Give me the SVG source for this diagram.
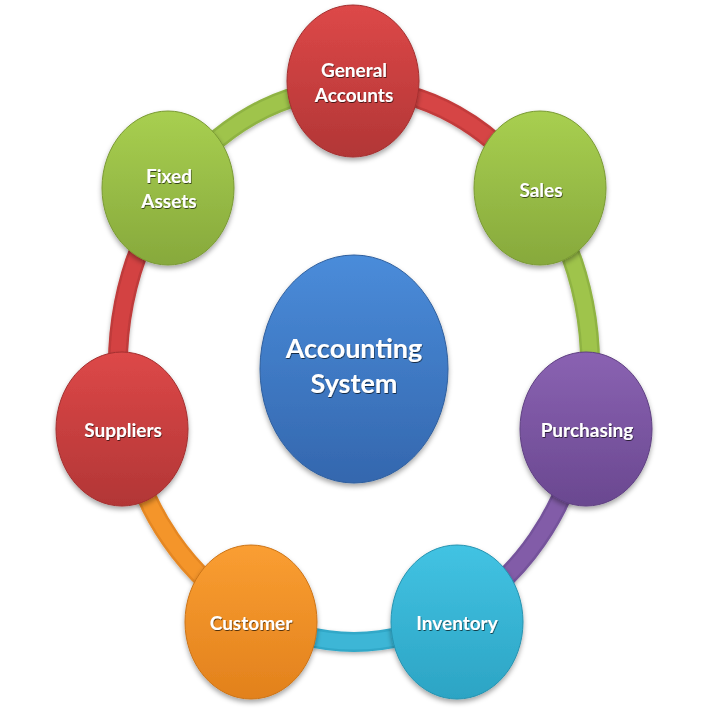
<svg xmlns="http://www.w3.org/2000/svg" width="709" height="709" viewBox="0 0 709 709">
<defs>
  <linearGradient id="gRed" x1="0" y1="0" x2="0" y2="1"><stop offset="0" stop-color="#dd4848"/><stop offset="1" stop-color="#b23636"/></linearGradient>
  <linearGradient id="gGreen" x1="0" y1="0" x2="0" y2="1"><stop offset="0" stop-color="#a8cf50"/><stop offset="1" stop-color="#87a93c"/></linearGradient>
  <linearGradient id="gPurple" x1="0" y1="0" x2="0" y2="1"><stop offset="0" stop-color="#8a62b2"/><stop offset="1" stop-color="#6a4890"/></linearGradient>
  <linearGradient id="gCyan" x1="0" y1="0" x2="0" y2="1"><stop offset="0" stop-color="#42c3e3"/><stop offset="1" stop-color="#2ca4c4"/></linearGradient>
  <linearGradient id="gOrange" x1="0" y1="0" x2="0" y2="1"><stop offset="0" stop-color="#fa9e32"/><stop offset="1" stop-color="#e2811c"/></linearGradient>
  <linearGradient id="gBlue" x1="0" y1="0" x2="0" y2="1"><stop offset="0" stop-color="#4a8cda"/><stop offset="1" stop-color="#3467ae"/></linearGradient>
  <filter id="sh" x="-20%" y="-20%" width="140%" height="150%">
    <feDropShadow dx="0" dy="3" stdDeviation="2.5" flood-color="#000" flood-opacity="0.35"/>
  </filter>
  <filter id="rs" x="-10%" y="-10%" width="120%" height="120%">
    <feDropShadow dx="0" dy="2" stdDeviation="2" flood-color="#000" flood-opacity="0.3"/>
  </filter>
  <filter id="ts" x="-10%" y="-30%" width="120%" height="160%">
    <feDropShadow dx="0.6" dy="1" stdDeviation="0.7" flood-color="#000" flood-opacity="0.65"/>
  </filter>
</defs>
<style>
  #connectors{filter:url(#rs)}
  .rb{fill:none;stroke-width:20}
  .rh{fill:none;stroke-width:15}
  .node{filter:url(#sh)}
  .lbl{font-family:Lato,"Open Sans","Liberation Sans",sans-serif;font-weight:bold;font-size:19px;fill:#fff;text-anchor:middle;filter:url(#ts)}
  .big{font-size:27px}
</style>

<g id="connectors">
  <g id="c-ga-sales">
    <path class="rb" stroke="#c23b3b" d="M354 88 A236 277 0 0 1 537.4 190.7"/>
    <path class="rh" stroke="#d64444" d="M354 88 A236 277 0 0 1 537.4 190.7"/>
  </g>
  <g id="c-sales-purch">
    <path class="rb" stroke="#8fb343" d="M537.4 190.7 A236 277 0 0 1 583.8 428.3"/>
    <path class="rh" stroke="#9fc44c" d="M537.4 190.7 A236 277 0 0 1 583.8 428.3"/>
  </g>
  <g id="c-purch-inv">
    <path class="rb" stroke="#74529b" d="M583.8 428.3 A236 277 0 0 1 454.5 615.6"/>
    <path class="rh" stroke="#825ca8" d="M583.8 428.3 A236 277 0 0 1 454.5 615.6"/>
  </g>
  <g id="c-inv-cust">
    <path class="rb" stroke="#30a8c8" d="M454.5 615.6 A236 277 0 0 1 253.5 615.6"/>
    <path class="rh" stroke="#3cb6d6" d="M454.5 615.6 A236 277 0 0 1 253.5 615.6"/>
  </g>
  <g id="c-cust-supp">
    <path class="rb" stroke="#e58722" d="M253.5 615.6 A236 277 0 0 1 124.2 428.3"/>
    <path class="rh" stroke="#f4952c" d="M253.5 615.6 A236 277 0 0 1 124.2 428.3"/>
  </g>
  <g id="c-supp-fa">
    <path class="rb" stroke="#bf3a3a" d="M124.2 428.3 A236 277 0 0 1 170.6 190.7"/>
    <path class="rh" stroke="#d34343" d="M124.2 428.3 A236 277 0 0 1 170.6 190.7"/>
  </g>
  <g id="c-fa-ga">
    <path class="rb" stroke="#8fb343" d="M170.6 190.7 A236 277 0 0 1 354 88"/>
    <path class="rh" stroke="#9fc44c" d="M170.6 190.7 A236 277 0 0 1 354 88"/>
  </g>
</g>

<g id="center">
  <ellipse class="node" cx="354" cy="369" rx="94" ry="114" fill="url(#gBlue)" stroke="#2f5f9e" stroke-width="1"/>
  <text class="lbl big" x="354" y="358">Accounting</text>
  <text class="lbl big" x="354" y="393">System</text>
</g>

<g id="general-accounts">
  <ellipse class="node" cx="353" cy="81" rx="66" ry="76" fill="url(#gRed)" stroke="#a33030" stroke-width="1"/>
  <text class="lbl" x="354" y="77">General</text>
  <text class="lbl" x="354" y="102">Accounts</text>
</g>

<g id="sales">
  <ellipse class="node" cx="540" cy="188" rx="66" ry="77" fill="url(#gGreen)" stroke="#7a9a34" stroke-width="1"/>
  <text class="lbl" x="541" y="197">Sales</text>
</g>

<g id="purchasing">
  <ellipse class="node" cx="586" cy="429" rx="66" ry="77" fill="url(#gPurple)" stroke="#5f4082" stroke-width="1"/>
  <text class="lbl" x="587" y="437">Purchasing</text>
</g>

<g id="inventory">
  <ellipse class="node" cx="457" cy="622" rx="66" ry="77" fill="url(#gCyan)" stroke="#2693b0" stroke-width="1"/>
  <text class="lbl" x="457" y="630">Inventory</text>
</g>

<g id="customer">
  <ellipse class="node" cx="251" cy="622" rx="66" ry="77" fill="url(#gOrange)" stroke="#cc7418" stroke-width="1"/>
  <text class="lbl" x="251" y="630">Customer</text>
</g>

<g id="suppliers">
  <ellipse class="node" cx="122" cy="429" rx="66" ry="77" fill="url(#gRed)" stroke="#a33030" stroke-width="1"/>
  <text class="lbl" x="123" y="437">Suppliers</text>
</g>

<g id="fixed-assets">
  <ellipse class="node" cx="168" cy="188" rx="66" ry="77" fill="url(#gGreen)" stroke="#7a9a34" stroke-width="1"/>
  <text class="lbl" x="169" y="183">Fixed</text>
  <text class="lbl" x="169" y="208">Assets</text>
</g>
</svg>
